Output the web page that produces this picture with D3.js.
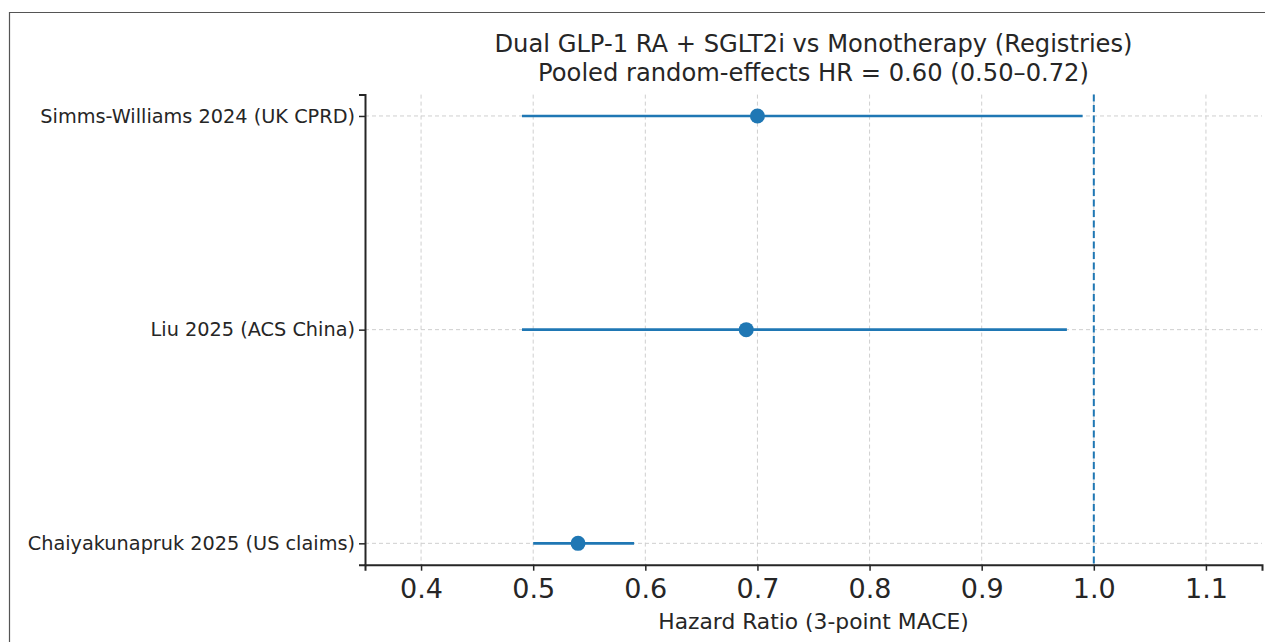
<!DOCTYPE html>
<html lang="en">
<head>
<meta charset="UTF-8">
<title>Dual GLP-1 RA + SGLT2i forest plot</title>
<script src="https://d3js.org/d3.v7.min.js"></script>
<style>
  body { margin: 0; background: #fff; }
  svg text { font-family: "DejaVu Sans", Verdana, sans-serif; }
  .grid line { stroke: #cfcfcf; stroke-width: 1; stroke-dasharray: 4,3; }
  .axis path, .axis line { stroke: #262626; }
  .axis text { fill: #262626; }
</style>
</head>
<body>
<div id="chart"></div>
<script>
// study data
const studies = ["Simms-Williams 2024 (UK CPRD)", "Liu 2025 (ACS China)", "Chaiyakunapruk 2025 (US claims)"];
const hr = [0.70, 0.69, 0.54];
const lower = [0.49, 0.49, 0.50];
const upper = [0.99, 0.976, 0.59];
const xTicks = [0.4, 0.5, 0.6, 0.7, 0.8, 0.9, 1.0, 1.1];
const refLine = 1.0;

const W = 1265, H = 642;
const plotL = 365, plotR = 1262, plotT = 94.6, plotB = 564.7;

const svg = d3.select('#chart').append('svg')
    .attr('width', W).attr('height', H)
    .style('display', 'block');

// screenshot frame
svg.append('path')
    .attr('d', `M9.5,${H} L9.5,12.5 L${W},12.5`)
    .attr('fill', 'none').attr('stroke', '#555').attr('stroke-width', 1.2);

const x = d3.scaleLinear().domain([0.35, 1.15]).range([plotL, plotR]);
const y = d3.scaleLinear().domain([-0.1, 2.1]).range([plotT, plotB]);

// grid
const grid = svg.append('g').attr('class', 'grid');
grid.selectAll('.vg').data(xTicks).enter().append('line')
    .attr('x1', d => x(d)).attr('x2', d => x(d))
    .attr('y1', plotT).attr('y2', plotB);
grid.selectAll('.hg').data(studies).enter().append('line')
    .attr('x1', plotL).attr('x2', plotR)
    .attr('y1', (d, i) => y(i)).attr('y2', (d, i) => y(i));

// reference line at HR = 1
svg.append('line')
    .attr('x1', x(refLine)).attr('x2', x(refLine))
    .attr('y1', plotT).attr('y2', plotB)
    .attr('stroke', '#1f77b4').attr('stroke-width', 2)
    .attr('stroke-dasharray', '7,3.5');

// confidence intervals
svg.selectAll('.ci').data(studies).enter().append('line')
    .attr('x1', (d, i) => x(lower[i])).attr('x2', (d, i) => x(upper[i]))
    .attr('y1', (d, i) => y(i)).attr('y2', (d, i) => y(i))
    .attr('stroke', '#1f77b4').attr('stroke-width', 2.6);

// point estimates
svg.selectAll('.pt').data(studies).enter().append('circle')
    .attr('cx', (d, i) => x(hr[i])).attr('cy', (d, i) => y(i))
    .attr('r', 7.5).attr('fill', '#1f77b4');

// axes
const xAxis = svg.append('g').attr('class', 'axis')
    .attr('transform', `translate(0,${plotB})`)
    .call(d3.axisBottom(x).tickValues(xTicks).tickFormat(d3.format('.1f')).tickSize(6).tickPadding(8));
xAxis.attr('font-family', null);
xAxis.select('.domain').attr('stroke-width', 2);
xAxis.selectAll('.tick line').attr('stroke-width', 1.5);
xAxis.selectAll('text').style('font-size', '27px');

const yAxis = svg.append('g').attr('class', 'axis')
    .attr('transform', `translate(${plotL},0)`)
    .call(d3.axisLeft(y).tickValues([0, 1, 2]).tickFormat(i => studies[i]).tickSize(6).tickPadding(4));
yAxis.attr('font-family', null);
yAxis.select('.domain').attr('stroke-width', 2);
yAxis.selectAll('.tick line').attr('stroke-width', 1.5);
yAxis.selectAll('text').style('font-size', '19.3px');

// title
const cx = (plotL + plotR) / 2;
svg.append('text').attr('x', cx).attr('y', 52)
    .attr('text-anchor', 'middle').attr('fill', '#262626')
    .style('font-size', '24.2px')
    .text('Dual GLP-1 RA + SGLT2i vs Monotherapy (Registries)');
svg.append('text').attr('x', cx).attr('y', 81)
    .attr('text-anchor', 'middle').attr('fill', '#262626')
    .style('font-size', '24.2px')
    .text('Pooled random-effects HR = 0.60 (0.50–0.72)');

// x label
svg.append('text').attr('x', cx).attr('y', 629)
    .attr('text-anchor', 'middle').attr('fill', '#262626')
    .style('font-size', '21.8px')
    .text('Hazard Ratio (3-point MACE)');
</script>
</body>
</html>
